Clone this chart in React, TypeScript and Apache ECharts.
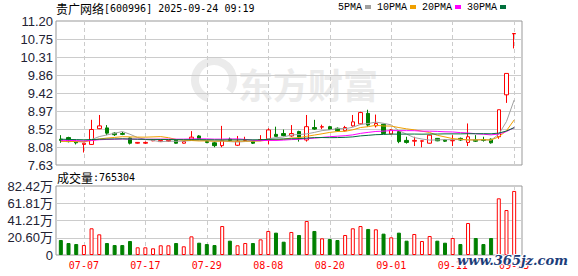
import React, { useEffect, useRef } from 'react';
import * as echarts from 'echarts';

const stockName = '贵广网络';
const stockCode = '600996';
const timestamp = '2025-09-24 09:19';
const volumeTitle = '成交量';
const watermarkText = '东方财富';
const siteMark = 'www.365jz.com';

const dates = [
  '07-02', '07-03', '07-04', '07-07', '07-08', '07-09', '07-10', '07-11', '07-14', '07-15',
  '07-16', '07-17', '07-18', '07-21', '07-22', '07-23', '07-24', '07-25', '07-28', '07-29',
  '07-30', '07-31', '08-01', '08-04', '08-05', '08-06', '08-07', '08-08', '08-11', '08-12',
  '08-13', '08-14', '08-15', '08-18', '08-19', '08-20', '08-21', '08-22', '08-25', '08-26',
  '08-27', '08-28', '08-29', '09-01', '09-02', '09-03', '09-04', '09-05', '09-08', '09-09',
  '09-10', '09-11', '09-12', '09-15', '09-16', '09-17', '09-18', '09-19', '09-22', '09-23',
];

const opens = [
  8.27, 8.31, 8.21, 8.14, 8.14, 8.53, 8.55, 8.42, 8.41, 8.30,
  8.17, 8.17, 8.23, 8.21, 8.22, 8.26, 8.17, 8.27, 8.35, 8.21,
  8.18, 8.11, 8.27, 8.12, 8.24, 8.21, 8.25, 8.27, 8.39, 8.41,
  8.35, 8.46, 8.25, 8.56, 8.57, 8.58, 8.54, 8.48, 8.60, 8.65,
  8.91, 8.60, 8.64, 8.40, 8.46, 8.24, 8.22, 8.22, 8.17, 8.29,
  8.25, 8.23, 8.29, 8.19, 8.25, 8.26, 8.27, 8.33, 9.37, 10.88,
];

const closes = [
  8.24, 8.21, 8.18, 8.17, 8.51, 8.60, 8.42, 8.38, 8.39, 8.17,
  8.19, 8.19, 8.25, 8.24, 8.24, 8.17, 8.21, 8.32, 8.28, 8.19,
  8.11, 8.23, 8.24, 8.22, 8.26, 8.17, 8.26, 8.50, 8.34, 8.36,
  8.41, 8.32, 8.58, 8.52, 8.58, 8.51, 8.48, 8.56, 8.70, 8.93,
  8.62, 8.66, 8.41, 8.50, 8.21, 8.19, 8.24, 8.23, 8.37, 8.23,
  8.22, 8.24, 8.25, 8.33, 8.22, 8.24, 8.18, 9.00, 9.90, 10.89,
];

const lows = [
  8.18, 8.19, 8.14, 7.94, 8.13, 8.52, 8.37, 8.35, 8.37, 8.14,
  8.16, 8.15, 8.22, 8.20, 8.21, 8.16, 8.16, 8.26, 8.27, 8.17,
  8.07, 8.07, 8.21, 8.10, 8.22, 8.15, 8.23, 8.14, 8.33, 8.34,
  8.33, 8.21, 8.21, 8.50, 8.52, 8.50, 8.46, 8.46, 8.58, 8.63,
  8.58, 8.56, 8.40, 8.39, 8.17, 8.16, 8.10, 8.07, 8.16, 8.22,
  8.20, 8.10, 8.23, 8.10, 8.20, 8.21, 8.16, 8.28, 9.17, 10.52,
];

const highs = [
  8.37, 8.33, 8.24, 8.18, 8.75, 8.87, 8.62, 8.44, 8.45, 8.31,
  8.20, 8.21, 8.27, 8.26, 8.25, 8.27, 8.22, 8.47, 8.37, 8.24,
  8.21, 8.60, 8.31, 8.35, 8.33, 8.22, 8.37, 8.54, 8.58, 8.51,
  8.62, 8.48, 8.87, 8.75, 8.63, 8.60, 8.56, 8.60, 8.87, 8.95,
  9.00, 8.88, 8.65, 8.52, 8.47, 8.33, 8.33, 8.24, 8.38, 8.30,
  8.26, 8.37, 8.31, 8.66, 8.37, 8.33, 8.29, 9.00, 9.90, 10.89,
];

const volumes = [
  179000, 143000, 131000, 119000, 319000, 247000, 143000, 119000, 119000, 167000,
  92000, 92000, 80000, 116000, 116000, 143000, 104000, 223000, 147000, 131000,
  119000, 346000, 171000, 116000, 143000, 143000, 187000, 287000, 267000, 159000,
  275000, 239000, 406000, 287000, 199000, 191000, 179000, 239000, 319000, 346000,
  311000, 307000, 255000, 211000, 267000, 171000, 251000, 167000, 227000, 171000,
  147000, 203000, 131000, 382000, 203000, 131000, 203000, 677000, 537000, 765304,
];

// closes before the visible window, estimated from where the MA lines start
const closesBeforeWindow = [
  8.35, 8.32, 8.30, 8.33, 8.36, 8.31, 8.28, 8.30, 8.34, 8.32,
  8.29, 8.27, 8.30, 8.28, 8.25, 8.27, 8.29, 8.26, 8.24, 8.22,
  8.25, 8.23, 8.20, 8.22, 8.21, 8.19, 8.23, 8.20, 8.22,
];

const maPeriods = [5, 10, 20, 30];
const maNames = ['5PMA', '10PMA', '20PMA', '30PMA'];
const maColors = ['#a0a0a0', '#f0a000', '#ff00ff', '#00703c'];

const priceMin = 7.63;
const priceMax = 11.2;
const priceTickLabels = ['7.63', '8.08', '8.52', '8.97', '9.42', '9.86', '10.31', '10.75', '11.20'];
const volumeMax = 824200;
const volumeTickLabels = ['0', '20.60万', '41.21万', '61.81万', '82.42万'];
const labelEvery = 8;
const labelOffset = 3;

const UP = '#ff0000';
const DOWN = '#008000';

function movingAverage(n: number): number[] {
  const all = closesBeforeWindow.concat(closes);
  const off = closesBeforeWindow.length;
  return closes.map((_, i) => {
    const end = off + i;
    const start = Math.max(0, end - n + 1);
    let s = 0;
    for (let k = start; k <= end; k++) s += all[k];
    return +(s / (end - start + 1)).toFixed(3);
  });
}

function isUp(i: number): boolean {
  if (closes[i] !== opens[i]) return closes[i] > opens[i];
  const prev = i > 0 ? closes[i - 1] : closesBeforeWindow[closesBeforeWindow.length - 1];
  return closes[i] >= prev;
}

const isLabelIdx = (index: number) => index % labelEvery === labelOffset;

function buildOption(): any {
  const labelFont = 'Liberation Sans, Noto Sans CJK SC, sans-serif';
  const monoFont = 'DejaVu Sans Mono, monospace';
  const cnFont = 'Noto Sans CJK SC, sans-serif';
  const splitDash = { color: '#cccccc', type: [4, 3], width: 1 };
  const richTitle = {
    cn: { fontFamily: cnFont, fontSize: 12, fontWeight: 'normal', color: '#000', lineHeight: 14 },
    en: { fontFamily: monoFont, fontSize: 10, fontWeight: 'normal', color: '#000', lineHeight: 14 },
  };

  const maSeries = maPeriods.map((p, k) => ({
    name: maNames[k],
    type: 'line',
    xAxisIndex: 0,
    yAxisIndex: 0,
    data: movingAverage(p),
    showSymbol: false,
    symbol: 'none',
    lineStyle: { width: 1, color: maColors[k] },
    itemStyle: { color: maColors[k] },
    z: 5,
    silent: true,
  }));

  return {
    animation: false,
    backgroundColor: '#ffffff',
    title: [
      {
        left: 56,
        top: 1,
        padding: 0,
        text: `{cn|${stockName}}{en|[${stockCode}] ${timestamp}}`,
        textStyle: { fontWeight: 'normal', rich: richTitle },
      },
      {
        left: 57,
        top: 170,
        padding: 0,
        text: `{cn|${volumeTitle}}{en|:${volumes[volumes.length - 1]}}`,
        textStyle: { fontWeight: 'normal', rich: richTitle },
      },
    ],
    legend: {
      data: maNames,
      left: 338,
      top: 2,
      padding: 0,
      itemWidth: 6,
      itemHeight: 4,
      itemGap: 6,
      align: 'right',
      icon: 'rect',
      selectedMode: false,
      textStyle: { fontFamily: 'Liberation Mono, monospace', fontSize: 10, color: '#000', padding: [0, -2, 0, 0] },
    },
    grid: [
      { left: 57, width: 461, top: 21, height: 144 },
      { left: 57, width: 461, top: 186, height: 69 },
      { left: 56, width: 466, top: 21, height: 144, show: true, borderColor: '#999999', borderWidth: 1, backgroundColor: 'transparent' },
      { left: 56, width: 466, top: 186, height: 69, show: true, borderColor: '#999999', borderWidth: 1, backgroundColor: 'transparent' },
    ],
    xAxis: [
      {
        type: 'category', gridIndex: 0, data: dates, boundaryGap: true,
        axisLine: { show: false }, axisTick: { show: false }, axisLabel: { show: false },
        splitLine: { show: true, interval: isLabelIdx, alignWithLabel: true, lineStyle: splitDash },
      },
      {
        type: 'category', gridIndex: 1, data: dates, boundaryGap: true,
        axisLine: { show: false }, axisTick: { show: false },
        axisLabel: { show: true, interval: isLabelIdx, color: '#ff0000', fontFamily: monoFont, fontSize: 10, margin: 5 },
        splitLine: { show: true, interval: isLabelIdx, alignWithLabel: true, lineStyle: splitDash },
      },
      { type: 'value', gridIndex: 2, min: 0, max: 1, show: false },
      { type: 'value', gridIndex: 3, min: 0, max: 1, show: false },
    ],
    yAxis: [
      { type: 'value', gridIndex: 0, min: priceMin, max: priceMax, show: false },
      { type: 'value', gridIndex: 1, min: 0, max: volumeMax, show: false },
      {
        type: 'value', gridIndex: 2, min: 0, max: priceTickLabels.length - 1, interval: 1,
        axisLine: { show: false }, axisTick: { show: false },
        splitLine: { show: true, showMinLine: false, showMaxLine: false, lineStyle: { color: '#cccccc', width: 1 } },
        axisLabel: {
          margin: 3, fontFamily: labelFont, fontSize: 13, color: '#222233',
          formatter: (v: number) => priceTickLabels[Math.round(v)],
        },
      },
      {
        type: 'value', gridIndex: 3, min: 0, max: volumeTickLabels.length - 1, interval: 1,
        axisLine: { show: false }, axisTick: { show: false },
        splitLine: { show: true, showMinLine: false, showMaxLine: false, lineStyle: { color: '#cccccc', width: 1 } },
        axisLabel: {
          margin: 3, fontFamily: labelFont, fontSize: 13, color: '#222233',
          formatter: (v: number) => volumeTickLabels[Math.round(v)],
        },
      },
    ],
    graphic: [
      {
        type: 'arc', z: 0, silent: true,
        shape: { cx: 214, cy: 80, r: 19, startAngle: Math.PI * 0.6, endAngle: Math.PI * 2.2 },
        style: { stroke: '#ebebeb', lineWidth: 8, fill: 'none' },
      },
      {
        type: 'text', z: 0, silent: true, x: 238, y: 66,
        style: { text: watermarkText, fontSize: 35, fontWeight: 'bold', fontFamily: cnFont, fill: '#ebebeb' },
      },
      {
        type: 'text', z: 100, silent: true, x: 457, y: 254,
        style: {
          text: siteMark, fontSize: 13, fontWeight: 'bold', fontStyle: 'italic',
          fontFamily: 'DejaVu Serif, serif', fill: '#1c3d7a', stroke: '#ffffff', lineWidth: 2,
        },
      },
    ],
    series: [
      {
        name: 'K',
        type: 'candlestick',
        xAxisIndex: 0,
        yAxisIndex: 0,
        barWidth: 4,
        z: 3,
        silent: true,
        data: dates.map((_, i) => [opens[i], closes[i], lows[i], highs[i]]),
        itemStyle: {
          color: '#ffffff', color0: DOWN, borderColor: UP, borderColor0: DOWN,
          borderColorDoji: UP, borderWidth: 1,
        },
      },
      ...maSeries,
      {
        name: 'VOL',
        type: 'bar',
        xAxisIndex: 1,
        yAxisIndex: 1,
        barWidth: 4,
        z: 3,
        silent: true,
        data: volumes.map((v, i) => ({
          value: v,
          itemStyle: isUp(i)
            ? { color: '#ffffff', borderColor: UP, borderWidth: 1 }
            : { color: DOWN, borderColor: DOWN, borderWidth: 1 },
        })),
      },
    ],
  };
}

export default function App() {
  const ref = useRef<HTMLDivElement>(null);
  useEffect(() => {
    if (!ref.current) return;
    const chart = echarts.init(ref.current, null, { renderer: 'svg' });
    chart.setOption(buildOption());
    return () => chart.dispose();
  }, []);
  return (
    <div
      ref={ref}
      style={{ position: 'absolute', left: 0, top: 0, width: 578, height: 276, background: '#fff' }}
    />
  );
}
